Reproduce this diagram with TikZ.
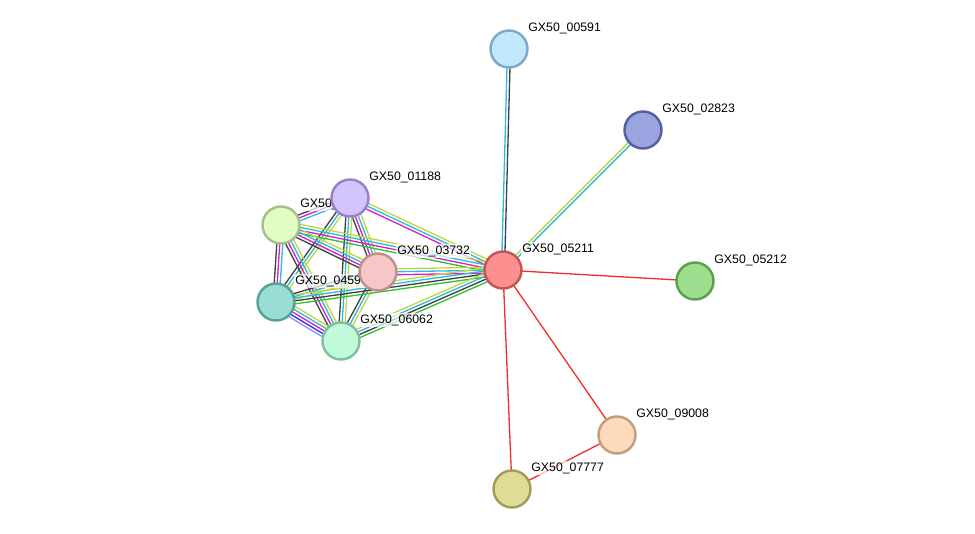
\documentclass[tikz,border=0pt]{standalone}
\usepackage{fontspec}
\setmainfont{Liberation Sans}
\usetikzlibrary{calc}
\definecolor{tm}{HTML}{C0D840}
\definecolor{db}{HTML}{30B8E0}
\definecolor{ex}{HTML}{D020D0}
\definecolor{co}{HTML}{404040}
\definecolor{nb}{HTML}{30C030}
\definecolor{oc}{HTML}{3030E0}
\definecolor{fu}{HTML}{9090F0}
\definecolor{ln}{HTML}{F03030}
% parallel coloured lines between two nodes
\newcommand{\evidence}[3]{%
  \foreach \c [count=\i] in {#3} {\xdef\ncol{\i}}
  \foreach \c [count=\i] in {#3} {
    \pgfmathsetmacro{\off}{(\i-(\ncol+1)/2)*1.7}
    \draw[\c,line width=0.75pt] ($(#1)!\off pt!90:(#2)$) -- ($(#2)!\off pt!-90:(#1)$);
  }}
\begin{document}
\begin{tikzpicture}
  [x=0.02cm,y=-0.02cm,
   protein/.style={circle,line width=1.4pt,minimum size=0.74cm,inner sep=0},
   tag/.style={anchor=west,font=\fontsize{7}{8}\selectfont,fill=white,fill opacity=0.7,
                text opacity=1,inner sep=0.6pt}]
  \useasboundingbox (0,0) rectangle (975,534);
  \coordinate (p00591) at (509,49);
  \coordinate (p02823) at (643,130);
  \coordinate (p01188) at (350,198);
  \coordinate (p04xxx) at (281,225);
  \coordinate (p03732) at (378,272);
  \coordinate (p05211) at (503,270);
  \coordinate (p05212) at (695,281);
  \coordinate (p04593) at (276,302);
  \coordinate (p06062) at (341,341);
  \coordinate (p09008) at (617,435);
  \coordinate (p07777) at (512,489);
  % edges
  \evidence{p05211}{p00591}{co,db}
  \evidence{p05211}{p02823}{db,tm}
  \evidence{p05211}{p05212}{ln}
  \evidence{p05211}{p09008}{ln}
  \evidence{p05211}{p07777}{ln}
  \evidence{p09008}{p07777}{ln}
  \evidence{p01188}{p05211}{ex,db,tm}
  \evidence{p01188}{p03732}{co,ex,db,tm}
  \evidence{p01188}{p04xxx}{co,ex,db}
  \evidence{p01188}{p04593}{co,db,tm}
  \evidence{p01188}{p06062}{co,db,tm}
  \evidence{p04xxx}{p05211}{nb,ex,db,tm}
  \evidence{p04xxx}{p03732}{co,ex,db,tm}
  \evidence{p04xxx}{p04593}{co,ex,db}
  \evidence{p04xxx}{p06062}{co,ex,db,tm}
  \evidence{p03732}{p05211}{ex,db,tm}
  \evidence{p03732}{p04593}{co,db,tm}
  \evidence{p03732}{p06062}{co,db,tm}
  \evidence{p04593}{p05211}{nb,co,db,tm}
  \evidence{p04593}{p06062}{fu,oc,ex,db,tm}
  \evidence{p06062}{p05211}{nb,co,db,tm}
  % labels
  \node[tag] (l00591) at ($(p00591)+(18,-21)$) {GX50\_00591};
  \node[tag] (l02823) at ($(p02823)+(18,-21)$) {GX50\_02823};
  \node[tag] (l01188) at ($(p01188)+(18,-21)$) {GX50\_01188};
  \node[tag] (l04xxx) at ($(p04xxx)+(18,-21)$) {GX50\_04};
  \node[tag] (l03732) at ($(p03732)+(18,-21)$) {GX50\_03732};
  \node[tag] (l05211) at ($(p05211)+(18,-21)$) {GX50\_05211};
  \node[tag] (l05212) at ($(p05212)+(18,-21)$) {GX50\_05212};
  \node[tag] (l04593) at ($(p04593)+(18,-21)$) {GX50\_04593};
  \node[tag] (l06062) at ($(p06062)+(18,-21)$) {GX50\_06062};
  \node[tag] (l09008) at ($(p09008)+(18,-21)$) {GX50\_09008};
  \node[tag] (l07777) at ($(p07777)+(18,-21)$) {GX50\_07777};
  % proteins
  \node[protein,draw={rgb,255:red,127;green,169;blue,200},fill={rgb,255:red,194;green,232;blue,251}] (n00591) at (p00591) {};
  \node[protein,draw={rgb,255:red,85;green,96;blue,160},fill={rgb,255:red,154;green,164;blue,224}] (n02823) at (p02823) {};
  \node[protein,draw={rgb,255:red,154;green,128;blue,204},fill={rgb,255:red,211;green,196;blue,251}] (n01188) at (p01188) {};
  \node[protein,draw={rgb,255:red,166;green,192;blue,138},fill={rgb,255:red,226;green,252;blue,198}] (n04xxx) at (p04xxx) {};
  \node[protein,draw={rgb,255:red,192;green,144;blue,144},fill={rgb,255:red,247;green,198;blue,198}] (n03732) at (p03732) {};
  \node[protein,draw={rgb,255:red,192;green,88;blue,88},fill={rgb,255:red,252;green,144;blue,144}] (n05211) at (p05211) {};
  \node[protein,draw={rgb,255:red,94;green,160;blue,80},fill={rgb,255:red,158;green,222;blue,143}] (n05212) at (p05212) {};
  \node[protein,draw={rgb,255:red,88;green,160;blue,152},fill={rgb,255:red,152;green,222;blue,212}] (n04593) at (p04593) {};
  \node[protein,draw={rgb,255:red,130;green,192;blue,158},fill={rgb,255:red,194;green,250;blue,220}] (n06062) at (p06062) {};
  \node[protein,draw={rgb,255:red,192;green,158;blue,126},fill={rgb,255:red,253;green,218;blue,187}] (n09008) at (p09008) {};
  \node[protein,draw={rgb,255:red,160;green,158;blue,88},fill={rgb,255:red,223;green,220;blue,152}] (n07777) at (p07777) {};
\end{tikzpicture}
\end{document}
